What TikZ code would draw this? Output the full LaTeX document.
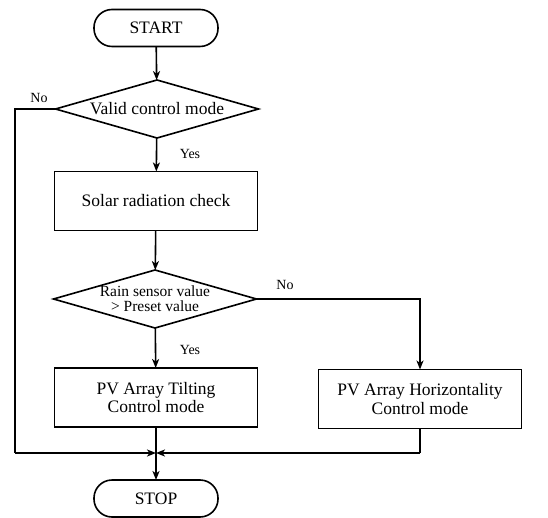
\documentclass[tikz,border=0pt]{standalone}
\usepackage{fontspec}
\setmainfont{Liberation Serif}
\usetikzlibrary{shapes.geometric,arrows.meta}
\begin{document}
\begin{tikzpicture}[x=1pt,y=-1pt,
  every node/.style={inner sep=0pt, outer sep=0pt},
  line/.style={line width=1.6pt, draw=black},
  arr/.style={line, -{Stealth[length=9pt,width=7pt,inset=2.5pt]}},
  term/.style={line, rectangle, rounded corners=18pt, minimum width=124pt, minimum height=37pt, font=\fontsize{17.5}{19}\selectfont},
  proc/.style={line, rectangle, minimum width=203pt, minimum height=59pt, align=center, font=\fontsize{17.5}{18.5}\selectfont},
  dec/.style={line, diamond, aspect=3.5, minimum width=203pt, minimum height=58pt, align=center},
  lbl/.style={font=\fontsize{14}{16}\selectfont}
]
\useasboundingbox (0,0) rectangle (548,518);
\node[term] (start) at (156,28) {START};
\node[dec, font=\fontsize{17.5}{19}\selectfont] (d1) at (157,109) {Valid control mode};
\node[proc] (solar) at (156,201) {Solar radiation check};
\node[dec, font=\fontsize{15.5}{15}\selectfont] (d2) at (155,299) {Rain sensor value\\ > Preset value};
\node[proc] (tilt) at (156,397.5) {PV Array Tilting\\Control mode};
\node[proc] (horiz) at (420,399) {PV Array Horizontality\\Control mode};
\node[term] (stop) at (156,498.5) {STOP};
\coordinate (m) at (156,453);
\coordinate (lt) at (15,109);
\coordinate (lb) at (15,453);
\coordinate (rt) at (420,299);
\coordinate (rb) at (420,453);

\draw[arr] (start) -- (d1);
\draw[arr] (d1) -- (solar);
\draw[arr] (solar) -- (d2);
\draw[arr] (d2) -- (tilt);
\draw[arr] (d2.east) -- (rt) -- (horiz.north);
\draw[line] (d1.west) -- (lt) -- (lb);
\draw[arr] (lb) -- (m);
\draw[line] (horiz.south) -- (rb);
\draw[arr] (rb) -- (m);
\draw[arr] (tilt.south) -- (stop.north);

\node[lbl] (no1) at (39,98) {No};
\node[lbl] (yes1) at (190,154) {Yes};
\node[lbl] (no2) at (285,285) {No};
\node[lbl] (yes2) at (190,350) {Yes};
\end{tikzpicture}
\end{document}
